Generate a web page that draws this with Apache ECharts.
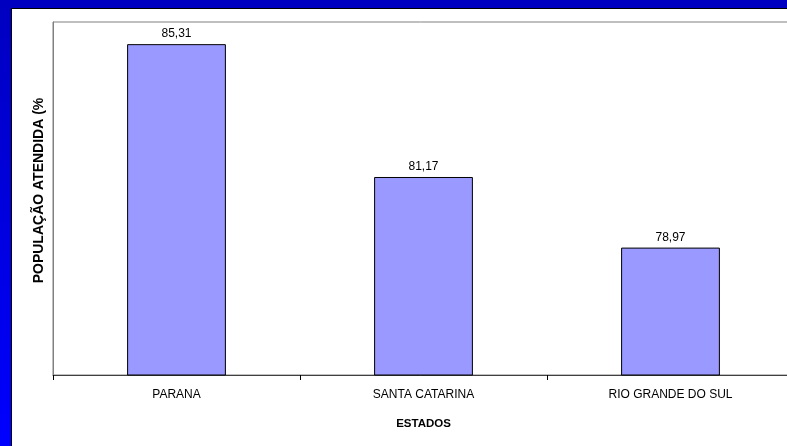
<!DOCTYPE html>
<html><head><meta charset="utf-8">
<script src="https://cdn.jsdelivr.net/npm/echarts@6/dist/echarts.min.js"></script>
<style>html,body{margin:0;padding:0;background:#fff;}#c{width:787px;height:446px;}</style>
</head><body><div id="c"></div>
<script>
const categories = ['PARANA', 'SANTA CATARINA', 'RIO GRANDE DO SUL'];
const values = [85.31, 81.17, 78.97];
const yName = 'POPULAÇÃO ATENDIDA (%';
const xName = 'ESTADOS';

const chart = echarts.init(document.getElementById('c'));
const font = '"Liberation Sans", Arial, sans-serif';
chart.setOption({
  animation: false,
  backgroundColor: '#fff',
  graphic: [
    {type: 'rect', shape: {x: 0, y: 0, width: 787, height: 8}, style: {fill: '#0000C0'}, z: 10},
    {type: 'rect', shape: {x: 0, y: 0, width: 11, height: 446},
      style: {fill: new echarts.graphic.LinearGradient(0, 0, 0, 1, [{offset: 0, color: '#0000C0'}, {offset: 1, color: '#0000FF'}])}, z: 10},
    {type: 'line', shape: {x1: 11, y1: 8.5, x2: 787, y2: 8.5}, style: {stroke: '#000', lineWidth: 1}, z: 11},
    {type: 'line', shape: {x1: 11.5, y1: 8, x2: 11.5, y2: 446}, style: {stroke: '#000', lineWidth: 1}, z: 11}
  ],
  grid: {left: 53, top: 22, width: 741, height: 353, outerBoundsMode: 'none', containLabel: false,
    show: true, borderColor: '#808080', borderWidth: 1, backgroundColor: 'transparent'},
  xAxis: {
    type: 'category', data: categories,
    axisLine: {lineStyle: {color: '#404040', width: 1}},
    axisTick: {show: true, alignWithLabel: false, length: 5, lineStyle: {color: '#000'}},
    axisLabel: {color: '#000', fontSize: 12, fontFamily: font, margin: 14},
    name: xName, nameLocation: 'middle', nameGap: 43,
    nameTextStyle: {color: '#000', fontSize: 11.5, fontWeight: 'bold', fontFamily: font}
  },
  yAxis: {
    type: 'value', min: 75, max: 86,
    axisLine: {show: true, lineStyle: {color: '#808080'}},
    axisTick: {show: false}, axisLabel: {show: false}, splitLine: {show: false},
    name: yName, nameLocation: 'middle', nameGap: 7, nameRotate: 90,
    nameTextStyle: {color: '#000', fontSize: 14, fontWeight: 'bold', fontFamily: font, padding: [0, 0, 0, 16]}
  },
  series: [{
    type: 'bar', data: values, barWidth: '40%',
    itemStyle: {color: '#9999FF', borderColor: '#000', borderWidth: 1},
    label: {show: true, position: 'top', distance: 4, color: '#000', fontSize: 12, fontFamily: font,
      formatter: p => p.value.toFixed(2).replace('.', ',')}
  }]
});
</script></body></html>
